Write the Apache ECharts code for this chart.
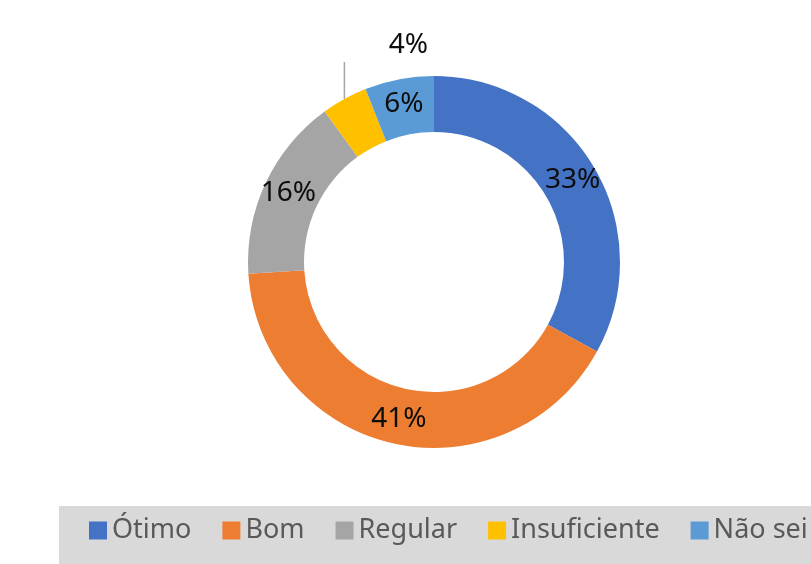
<!DOCTYPE html>
<html>
<head>
<meta charset="utf-8">
<script src="https://cdn.jsdelivr.net/npm/echarts@6/dist/echarts.min.js"></script>
<style>
  html, body { margin: 0; padding: 0; background: #fff; }
  #chart { width: 811px; height: 564px; }
</style>
</head>
<body>
<div id="chart"></div>
<script>
const categories = ['Ótimo', 'Bom', 'Regular', 'Insuficiente', 'Não sei']
const values = [33, 41, 16, 4, 6]
const colors = ['#4472C4', '#ED7D31', '#A5A5A5', '#FFC000', '#5B9BD5']

// the small slice gets its label outside with a vertical leader line
const outsideIndex = 3

const myChart = echarts.init(document.getElementById('chart'))

const option = {
    backgroundColor: '#fff',
    color: colors,
    graphic: [
        {
            type: 'rect',
            left: 59,
            top: 506,
            shape: {width: 760, height: 60},
            style: {fill: '#D9D9D9'},
            silent: true,
        },
    ],
    legend: {
        left: 89,
        top: 517,
        width: 1000,
        padding: 0,
        itemWidth: 18,
        itemHeight: 18,
        itemGap: 31,
        icon: 'rect',
        textStyle: {
            fontFamily: 'Noto Sans',
            fontSize: 27,
            color: '#595959',
        },
        data: categories,
    },
    series: [
        {
            type: 'pie',
            center: [434, 262],
            radius: [130, 186],
            startAngle: 90,
            clockwise: true,
            avoidLabelOverlap: false,
            emphasis: {disabled: true},
            label: {
                show: true,
                position: 'inside',
                formatter: '{c}%',
                fontFamily: 'Noto Sans',
                fontSize: 28,
                color: '#0d0d0d',
            },
            labelLine: {
                show: false,
            },
            labelLayout: (p) => {
                if (p.dataIndex !== outsideIndex || !p.labelLinePoints) return {}
                const s = p.labelLinePoints[0]
                const top = [s[0], s[1] - 37]
                return {
                    x: s[0] + 64,
                    y: s[1] - 54,
                    align: 'center',
                    verticalAlign: 'middle',
                    labelLinePoints: [s, top, top],
                }
            },
            data: categories.map((name, idx) => {
                const item = {name, value: values[idx]}
                if (idx === outsideIndex) {
                    item.label = {position: 'outside'}
                    item.labelLine = {
                        show: true,
                        length: 10,
                        length2: 10,
                        lineStyle: {color: '#A6A6A6', width: 1.5},
                    }
                }
                return item
            }),
        },
    ],
}

myChart.setOption(option)
</script>
</body>
</html>
